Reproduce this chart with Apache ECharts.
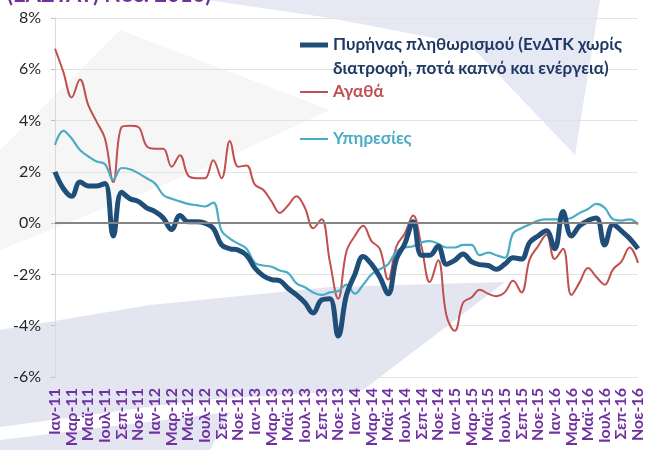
<!DOCTYPE html>
<html>
<head>
<meta charset="utf-8">
<script src="https://cdn.jsdelivr.net/npm/echarts@6/dist/echarts.min.js"></script>
<style>
  html, body { margin: 0; padding: 0; background: #fff; }
  #chart { width: 646px; height: 450px; }
</style>
</head>
<body>
<div id="chart"></div>
<script>
// months Ιαν-11 .. Νοε-16
const monthNames = ['Ιαν', 'Φεβ', 'Μαρ', 'Απρ', 'Μαϊ', 'Ιουν', 'Ιουλ', 'Αυγ', 'Σεπ', 'Οκτ', 'Νοε', 'Δεκ'];
const years = ['11', '12', '13', '14', '15', '16'];
const categories = [];
years.forEach(y => monthNames.forEach(m => categories.push(m + '-' + y)));
categories.length = 71;

const coreName = 'Πυρήνας πληθωρισμού (ΕνΔΤΚ χωρίς διατροφή, ποτά καπνό και ενέργεια)';
const coreLines = ['Πυρήνας πληθωρισμού (ΕνΔΤΚ χωρίς', 'διατροφή, ποτά καπνό και ενέργεια)'];
const goodsName = 'Αγαθά';
const servicesName = 'Υπηρεσίες';

const core = [
  2.0, 1.35, 1.05, 1.6, 1.45, 1.45, 1.55, -0.5, 1.2, 0.95, 0.85, 0.6,
  0.45, 0.2, -0.25, 0.3, 0.05, 0.05, 0.0, -0.2, -0.85, -1.0, -1.05, -1.25,
  -1.75, -2.05, -2.2, -2.25, -2.55, -2.8, -3.1, -3.5, -3.0, -2.95, -4.4, -2.8,
  -2.0, -1.3, -1.6, -2.1, -2.75, -1.4, -0.8, 0.05, -1.25, -1.25, -0.9, -1.6,
  -1.45, -1.2, -1.5, -1.62, -1.65, -1.8, -1.6, -1.35, -1.4, -0.75, -0.5, -0.3,
  -1.0, 0.45, -0.5, -0.1, 0.1, 0.2, -0.85, -0.05, -0.3, -0.6, -1.0
];
const goods = [
  6.8, 5.9, 4.9, 5.6, 4.6, 3.95, 3.3, 1.6, 3.75, 3.8, 3.75, 3.0,
  2.9, 2.9, 2.2, 2.65, 1.85, 1.75, 1.75, 2.45, 1.75, 3.2, 2.2, 2.25,
  1.5, 1.3, 0.85, 0.4, 0.7, 1.05, 0.6, -0.2, 0.15, -1.5, -2.95, -1.1,
  -0.5, -0.1, -0.7, -1.0, -2.2, -0.9, -0.4, 0.3, -0.9, -2.3, -1.45, -3.6,
  -4.2, -3.1, -2.9, -2.6, -2.75, -2.85, -2.7, -2.25, -2.7, -1.4, -0.9, -0.45,
  -1.4, -1.0, -2.8, -2.3, -1.75, -2.1, -2.4, -1.8, -1.5, -0.95, -1.55
];
const services = [
  3.05, 3.6, 3.3, 2.85, 2.6, 2.4, 2.3, 1.7, 2.15, 2.1, 1.95, 1.75,
  1.55, 1.1, 0.95, 0.85, 0.75, 0.7, 0.65, 0.8, -0.3, -0.6, -0.8, -1.0,
  -1.55, -1.65, -1.7, -1.85, -1.95, -2.35, -2.5, -2.7, -2.8, -2.7, -2.65, -2.4,
  -2.75, -2.4, -2.0, -1.8, -1.6, -1.1, -0.95, -0.9, -0.75, -0.7, -0.8, -0.95,
  -0.95, -0.85, -0.85, -1.25, -1.15, -1.25, -1.35, -0.4, -0.2, -0.05, 0.1, 0.15,
  0.15, 0.15, 0.2, 0.4, 0.55, 0.75, 0.6, 0.15, 0.1, 0.15, -0.05
];

const font = 'Lato, "Open Sans", "DejaVu Sans", sans-serif';

const chart = echarts.init(document.getElementById('chart'));

chart.setOption({
  animation: false,
  title: {
    text: '(ΕΛΣΤΑΤ) Νοε. 2016)',
    left: 2,
    top: -21,
    textStyle: { color: '#7030A0', fontSize: 22, fontWeight: 'bold', fontFamily: font }
  },
  graphic: [
    // faint watermark shapes behind the plot
    { type: 'polygon', z: -10, silent: true,
      shape: { points: [[207, 0], [600, 0], [575, 155], [470, 45], [330, 18]] },
      style: { fill: '#E6E8F3' } },
    { type: 'polygon', z: -10, silent: true,
      shape: { points: [[0, 150], [120, 30], [330, 110], [200, 170], [0, 250]] },
      style: { fill: '#F6F6F7' } },
    { type: 'polygon', z: -10, silent: true,
      shape: { points: [[0, 330], [150, 305], [330, 287], [505, 282], [363, 390], [200, 400], [0, 427]] },
      style: { fill: '#E3E5F1' } },
    { type: 'polygon', z: -10, silent: true,
      shape: { points: [[0, 440], [230, 412], [210, 450], [0, 450]] },
      style: { fill: '#E3E5F1' } }
  ],
  legend: [
    {
      data: [{ name: coreName, icon: 'rect' }],
      left: 300, top: 9, padding: 0,
      itemWidth: 28, itemHeight: 5, itemGap: 2,
      selectedMode: false,
      // blank first line keeps the key beside the first line of text
      formatter: () => ' \n' + coreLines.join('\n'),
      textStyle: { color: '#1F3864', fontSize: 17, fontWeight: 'bold', fontFamily: font, lineHeight: 24 }
    },
    {
      data: [{ name: goodsName, icon: 'rect' }],
      left: 300, top: 81, padding: 0,
      itemWidth: 28, itemHeight: 2, itemGap: 2,
      selectedMode: false,
      textStyle: { color: '#C0504D', fontSize: 17, fontWeight: 'bold', fontFamily: font, lineHeight: 22 }
    },
    {
      data: [{ name: servicesName, icon: 'rect' }],
      left: 300, top: 128, padding: 0,
      itemWidth: 28, itemHeight: 2, itemGap: 2,
      selectedMode: false,
      textStyle: { color: '#4BACC6', fontSize: 17, fontWeight: 'bold', fontFamily: font, lineHeight: 22 }
    }
  ],
  grid: { left: 55, right: 8, top: 18, bottom: 73 },
  xAxis: {
    type: 'category',
    data: categories,
    boundaryGap: false,
    axisLine: { show: false },
    axisTick: { show: false },
    splitLine: { show: false },
    axisLabel: {
      rotate: 90,
      interval: 1,
      margin: 11,
      color: '#7030A0',
      fontSize: 16,
      fontWeight: 'bold',
      fontFamily: font
    }
  },
  yAxis: {
    type: 'value',
    min: -6,
    max: 8,
    interval: 2,
    axisLine: { show: true, lineStyle: { color: '#D9D9D9', width: 1 } },
    axisTick: { show: true, length: 4, lineStyle: { color: '#BFBFBF' } },
    splitLine: { lineStyle: { color: '#E3E3E3', width: 1 } },
    axisLabel: {
      formatter: '{value}%',
      color: '#262626',
      fontSize: 16,
      margin: 14,
      fontFamily: font
    }
  },
  series: [
    {
      name: goodsName,
      type: 'line',
      data: goods,
      smooth: 0.4,
      symbol: 'none',
      lineStyle: { color: '#C0504D', width: 2 },
      itemStyle: { color: '#C0504D' },
      markLine: {
        silent: true,
        symbol: 'none',
        label: { show: false },
        lineStyle: { color: '#858585', width: 2, type: 'solid' },
        data: [{ yAxis: 0 }]
      }
    },
    {
      name: servicesName,
      type: 'line',
      data: services,
      smooth: 0.4,
      symbol: 'none',
      lineStyle: { color: '#4BACC6', width: 2.2 },
      itemStyle: { color: '#4BACC6' }
    },
    {
      name: coreName,
      type: 'line',
      data: core,
      smooth: 0.4,
      symbol: 'none',
      lineStyle: { color: '#1F4E79', width: 5 },
      itemStyle: { color: '#1F4E79' }
    }
  ]
});
</script>
</body>
</html>
